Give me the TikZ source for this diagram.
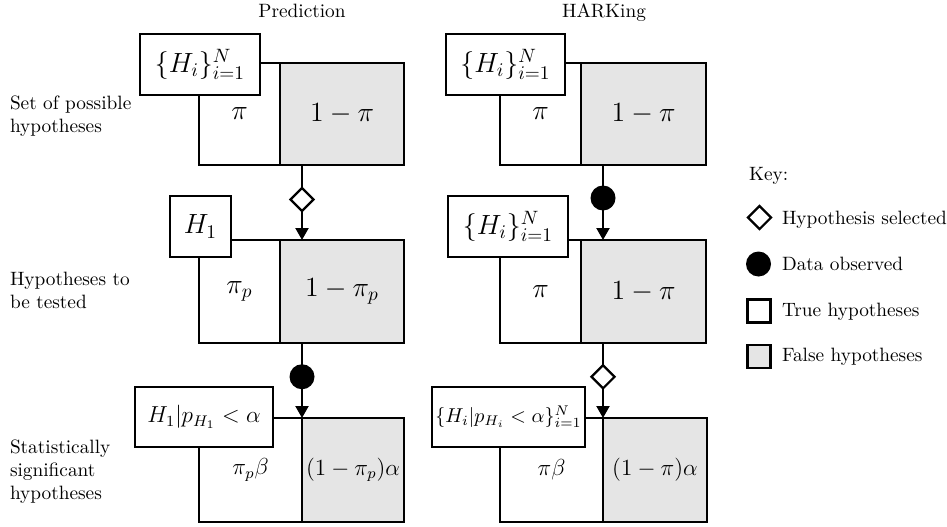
\RequirePackage{fix-cm}
\documentclass[tikz,border=0pt]{standalone}
\usepackage{graphicx}
\usetikzlibrary{arrows.meta,shapes.geometric}
\newcommand{\tx}[1]{\scalebox{1.93}{#1}}
\newcommand{\mA}[1]{\tx{\Large$#1$}}
\newcommand{\mB}[1]{\tx{\large$#1$}}
\newcommand{\mC}[1]{\tx{\fontsize{10.4}{12.5}\selectfont$#1$}}
\newcommand{\rows}[1]{\tx{\begin{tabular}[t]{@{}l@{}}#1\end{tabular}}}
\begin{document}
\begin{tikzpicture}[x=1pt,y=-1pt,
  txt/.style={inner sep=0, outer sep=0},
  part/.style={draw, line width=2.2pt, inner sep=0, outer sep=0, anchor=north west},
  tpart/.style={part, fill=white},
  fpart/.style={part, fill=gray!20},
  lbl/.style={draw, fill=white, line width=2.2pt, inner sep=0, outer sep=0, minimum height=61pt, anchor=north west},
  conn/.style={line width=2.2pt, -{Triangle[width=13pt,length=12pt]}},
  selmark/.style={diamond, draw, fill=white, line width=2.2pt, minimum width=24pt, minimum height=24pt, inner sep=0, aspect=1},
  obsmark/.style={circle, fill=black, minimum size=25pt, inner sep=0},
  keybox/.style={draw, line width=2.2pt, minimum size=23pt, inner sep=0},
]
\useasboundingbox (0,0) rectangle (947,527);

% titles
\node[txt, anchor=base] (tp) at (302,18) {\tx{Prediction}};
\node[txt, anchor=base] (th) at (604,18) {\tx{HARKing}};

% row labels
\node[txt, anchor=base west] (r1) at (10,109) {\rows{Set of possible\\hypotheses}};
\node[txt, anchor=base west] (r2) at (10,285) {\rows{Hypotheses to\\be tested}};
\node[txt, anchor=base west] (r3) at (10,453) {\rows{Statistically\\significant\\hypotheses}};

% Prediction column
\node[tpart, minimum width=81pt, minimum height=102pt] (pTw) at (199,63) {\mA{\pi}};
\node[fpart, minimum width=124pt, minimum height=102pt] (pTg) at (280,63) {\mA{1-\pi}};
\node[tpart, minimum width=81pt, minimum height=103pt] (pMw) at (199,240) {\mA{\pi_p}};
\node[fpart, minimum width=124pt, minimum height=103pt] (pMg) at (280,240) {\mA{1-\pi_p}};
\node[tpart, minimum width=103pt, minimum height=104pt] (pBw) at (199,418) {\mB{\pi_p\beta}};
\node[fpart, minimum width=102pt, minimum height=104pt] (pBg) at (302,418) {\mB{(1-\pi_p)\alpha}};
\node[lbl, minimum width=120pt] (pTl) at (140,34) {\mA{\{H_i\}_{i=1}^N}};
\node[lbl, minimum width=61pt] (pMl) at (170,196) {\mA{H_1}};
\node[lbl, minimum width=138pt, minimum height=60pt] (pBl) at (135,387) {\mB{H_1|p_{H_1}<\alpha}};

% HARKing column
\node[tpart, minimum width=81pt, minimum height=102pt] (hTw) at (500,63) {\mA{\pi}};
\node[fpart, minimum width=125pt, minimum height=102pt] (hTg) at (581,63) {\mA{1-\pi}};
\node[tpart, minimum width=81pt, minimum height=103pt] (hMw) at (500,240) {\mA{\pi}};
\node[fpart, minimum width=125pt, minimum height=103pt] (hMg) at (581,240) {\mA{1-\pi}};
\node[tpart, minimum width=103pt, minimum height=104pt] (hBw) at (500,418) {\mB{\pi\beta}};
\node[fpart, minimum width=104pt, minimum height=104pt] (hBg) at (603,418) {\mB{(1-\pi)\alpha}};
\node[lbl, minimum width=119pt] (hTl) at (446,34) {\mA{\{H_i\}_{i=1}^N}};
\node[lbl, minimum width=120pt] (hMl) at (448,196) {\mA{\{H_i\}_{i=1}^N}};
\node[lbl, minimum width=153pt, minimum height=60pt] (hBl) at (432,387) {\mC{\{H_i|p_{H_i}<\alpha\}_{i=1}^N}};

% connectors
\coordinate (pax) at (302,0);
\coordinate (hax) at (603,0);
\draw[conn] (pTg.south -| pax) -- node[pos=0.46, selmark] (pd1) {} (pMg.north -| pax);
\draw[conn] (pMg.south -| pax) -- node[pos=0.45, obsmark] (pc1) {} (pBg.north west);
\draw[conn] (hTg.south -| hax) -- node[pos=0.44, obsmark] (hc1) {} (hMg.north -| hax);
\draw[conn] (hMg.south -| hax) -- node[pos=0.45, selmark] (hd1) {} (hBg.north west);

% key
\node[txt, anchor=base west] (keyt) at (749,180) {\tx{Key:}};
\node[selmark] (k1) at (759.5,217.5) {};
\node[txt, anchor=base west] (k1t) at (782,224) {\tx{Hypothesis selected}};
\node[obsmark] (k2) at (758.5,264) {};
\node[txt, anchor=base west] (k2t) at (782,270.5) {\tx{Data observed}};
\node[keybox, fill=white] (k3) at (759,311) {};
\node[txt, anchor=base west] (k3t) at (782,316.5) {\tx{True hypotheses}};
\node[keybox, fill=gray!20] (k4) at (759,356.5) {};
\node[txt, anchor=base west] (k4t) at (782,361.5) {\tx{False hypotheses}};
\end{tikzpicture}
\end{document}
